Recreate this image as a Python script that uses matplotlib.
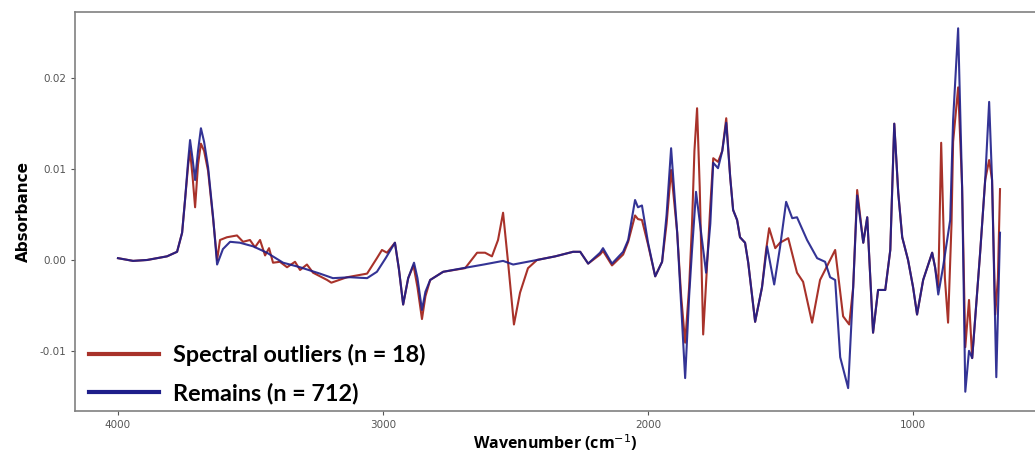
import matplotlib
matplotlib.use('Agg')
import matplotlib.pyplot as plt

# Remains (n = 712): wavenumber (cm-1) and mean absorbance
wn_remain = [4000, 3943, 3890, 3815, 3777, 3758, 3747, 3735, 3728, 3718, 3709, 3698, 3687, 3675,
             3660, 3641, 3626, 3604, 3577, 3540, 3490, 3438, 3377, 3313, 3238, 3189, 3124, 3060,
             3023, 2990, 2955, 2940, 2924, 2905, 2883, 2870, 2853, 2840, 2822, 2773, 2698, 2620,
             2547, 2509, 2419, 2350, 2283, 2256, 2226, 2181, 2170, 2136, 2094, 2075, 2049, 2038,
             2023, 2000, 1973, 1947, 1930, 1913, 1890, 1875, 1860, 1845, 1834, 1819, 1800, 1781,
             1765, 1754, 1736, 1720, 1705, 1690, 1679, 1664, 1653, 1634, 1622, 1596, 1570, 1551,
             1524, 1502, 1479, 1456, 1438, 1400, 1362, 1332, 1313, 1294, 1275, 1245, 1226, 1211,
             1188, 1173, 1151, 1132, 1105, 1086, 1071, 1056, 1041, 1019, 1000, 985, 962, 928,
             917, 905, 887, 860, 849, 830, 815, 803, 789, 777, 747, 728, 713, 702, 686, 672]
ab_remain = [0.0002, -0.0001, 0.0, 0.0004, 0.0009, 0.003, 0.0066, 0.011, 0.0132, 0.011, 0.0088,
             0.012, 0.0145, 0.013, 0.0102, 0.0047, -0.0005, 0.0012, 0.0020, 0.0019, 0.0015,
             0.0008, -0.0003, -0.0008, -0.0015, -0.0020, -0.0019, -0.0020, -0.0013, 0.0002,
             0.0019, -0.001, -0.0049, -0.002, -0.0003, -0.002, -0.0055, -0.0035, -0.0022,
             -0.0013, -0.0009, -0.0005, -0.0001, -0.0005, 0.0, 0.0004, 0.0009, 0.0009, -0.0004,
             0.0008, 0.0013, -0.0004, 0.0009, 0.0022, 0.0066, 0.0058, 0.006, 0.0019, -0.0018,
             -0.0002, 0.005, 0.0123, 0.003, -0.005, -0.013, -0.004, 0.0011, 0.0075, 0.003,
             -0.0014, 0.004, 0.0107, 0.0101, 0.012, 0.0151, 0.0091, 0.0055, 0.0044, 0.0025,
             0.0019, -0.0003, -0.0068, -0.003, 0.0015, -0.0027, 0.0014, 0.0064, 0.0046, 0.0047,
             0.0022, 0.0002, -0.0002, -0.0019, -0.0022, -0.0107, -0.0141, -0.003, 0.0071, 0.0019,
             0.0047, -0.008, -0.0033, -0.0033, 0.0011, 0.015, 0.0074, 0.0025, 0.0, -0.003,
             -0.006, -0.0022, 0.0008, -0.0008, -0.0038, -0.0008, 0.0044, 0.0154, 0.0255, 0.008,
             -0.0145, -0.010, -0.0108, 0.0008, 0.0088, 0.0174, 0.0088, -0.0129, 0.003]

# Spectral outliers (n = 18)
wn_outlier = [4000, 3943, 3890, 3815, 3777, 3758, 3747, 3735, 3728, 3718, 3709, 3698, 3687, 3675,
              3660, 3641, 3626, 3615, 3589, 3551, 3528, 3502, 3483, 3464, 3445, 3430, 3415, 3389,
              3362, 3332, 3313, 3287, 3264, 3211, 3195, 3136, 3060, 3023, 3004, 2985, 2955, 2940,
              2924, 2905, 2885, 2870, 2853, 2840, 2822, 2773, 2690, 2645, 2615, 2589, 2566, 2547,
              2528, 2506, 2483, 2453, 2419, 2350, 2283, 2256, 2226, 2181, 2170, 2136, 2094, 2075,
              2049, 2038, 2023, 2000, 1973, 1947, 1930, 1913, 1890, 1875, 1860, 1845, 1834, 1825,
              1815, 1805, 1792, 1780, 1765, 1754, 1736, 1720, 1705, 1690, 1679, 1664, 1653, 1634,
              1622, 1596, 1570, 1555, 1543, 1520, 1502, 1471, 1438, 1415, 1381, 1351, 1294, 1264,
              1241, 1226, 1211, 1188, 1173, 1151, 1132, 1105, 1086, 1071, 1056, 1041, 1019, 1000,
              985, 962, 928, 917, 905, 894, 880, 868, 855, 849, 830, 815, 803, 789, 777, 747,
              728, 713, 702, 690, 680, 672]
ab_outlier = [0.0002, -0.0001, 0.0, 0.0004, 0.0009, 0.003, 0.0066, 0.0105, 0.012, 0.009, 0.0058,
              0.0105, 0.0128, 0.012, 0.0098, 0.0045, 0.0, 0.0022, 0.0025, 0.0027, 0.002, 0.0022,
              0.0014, 0.0022, 0.0005, 0.0013, -0.0003, -0.0002, -0.0008, -0.0002, -0.0011,
              -0.0005, -0.0014, -0.0022, -0.0025, -0.0019, -0.0015, 0.0002, 0.0011, 0.0008,
              0.0019, -0.001, -0.0049, -0.002, -0.0006, -0.003, -0.0065, -0.004, -0.0022,
              -0.0013, -0.0009, 0.0008, 0.0008, 0.0004, 0.0022, 0.0052, -0.0003, -0.0071,
              -0.0036, -0.0009, 0.0, 0.0004, 0.0009, 0.0009, -0.0004, 0.0006, 0.0010, -0.0006,
              0.0006, 0.0020, 0.0049, 0.0045, 0.0044, 0.0017, -0.0018, -0.0002, 0.004, 0.0099,
              0.003, -0.004, -0.0091, -0.003, 0.004, 0.012, 0.0167, 0.008, -0.0082, -0.002,
              0.006, 0.0112, 0.0108, 0.012, 0.0156, 0.0091, 0.0055, 0.0044, 0.0025, 0.0019,
              -0.0003, -0.0068, -0.003, 0.001, 0.0035, 0.0013, 0.0019, 0.0024, -0.0014, -0.0024,
              -0.0069, -0.0022, 0.0011, -0.0062, -0.0071, -0.003, 0.0077, 0.0019, 0.0047,
              -0.008, -0.0033, -0.0033, 0.0011, 0.015, 0.0074, 0.0025, 0.0, -0.003, -0.006,
              -0.0022, 0.0008, -0.0008, -0.003, 0.0129, -0.002, -0.0069, 0.004, 0.013, 0.019,
              0.008, -0.0096, -0.0044, -0.0108, 0.0008, 0.0088, 0.011, 0.0088, -0.006, -0.002,
              0.0078]

labels = ['Spectral outliers (n = 18)', 'Remains (n = 712)']
x_ticks = [4000, 3000, 2000, 1000]
y_ticks = [-0.01, 0.00, 0.01, 0.02]

red = '#A8322A'
blue = '#1E1E8A'

fig = plt.figure(figsize=(10.35, 4.59), dpi=100)
ax = fig.add_axes([0.0725, 0.105, 0.9275, 0.869])

ax.plot(wn_outlier, ab_outlier, color=red, lw=1.5, label=labels[0])
ax.plot(wn_remain, ab_remain, color=blue, lw=1.5, alpha=0.9, label=labels[1])

ax.set_xlim(4162, 540)
ax.set_ylim(-0.0166, 0.0273)
ax.set_xticks(x_ticks)
ax.set_xticklabels([str(t) for t in x_ticks])
ax.set_yticks(y_ticks)
ax.set_yticklabels(['-0.01', '0.00', '0.01', '0.02'])
ax.tick_params(colors='#555555', labelsize=7.5, length=3, width=0.8)
for s in ['left', 'top', 'bottom']:
    ax.spines[s].set_color('#808080')
    ax.spines[s].set_linewidth(1.2)
ax.spines['right'].set_visible(False)

ax.set_xlabel('Wavenumber (cm$^{-1}$)', fontsize=11.5, fontweight='bold', family='Open Sans', labelpad=2)
ax.set_ylabel('Absorbance', fontsize=11, fontweight='bold', labelpad=6)

leg = ax.legend(loc='lower left', bbox_to_anchor=(-0.002, -0.025), frameon=False,
                prop={'family': 'Lato', 'weight': 'bold', 'size': 16.8},
                handlelength=3.0, handletextpad=0.6, labelspacing=0.7, borderaxespad=0.3)
for h in leg.get_lines():
    h.set_linewidth(3)
    h.set_alpha(1)

plt.savefig('out.png', dpi=100)
